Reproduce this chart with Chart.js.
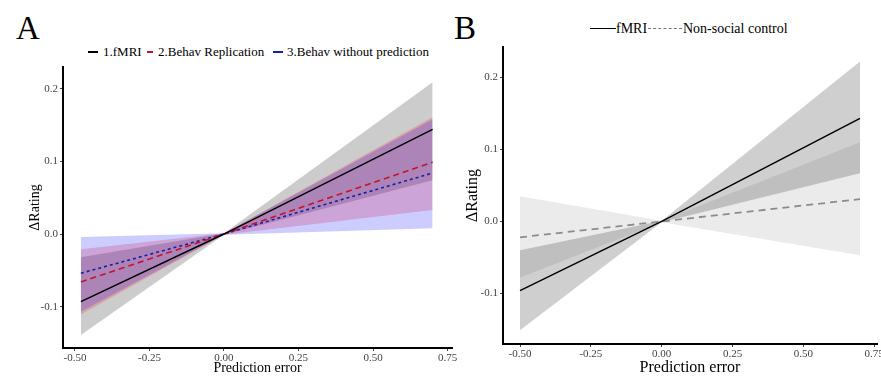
<!DOCTYPE html>
<html>
<head>
<meta charset="utf-8">
<script src="https://cdn.jsdelivr.net/npm/chart.js@4.4.1/dist/chart.umd.min.js"></script>
<style>
  html, body { margin:0; padding:0; background:#fff; }
  body { width:881px; height:392px; position:relative; overflow:hidden; font-family:"Liberation Serif","DejaVu Serif",serif; }
  .abs { position:absolute; }
  .lbl { position:absolute; white-space:nowrap; color:#000; line-height:1; }
  .panel { position:absolute; font-size:33px; line-height:1; color:#000; }
  .ln { position:absolute; height:0; }
</style>
</head>
<body>
<div class="panel" style="left:16px;top:12px;">A</div>
<div class="panel" style="left:454px;top:12px;">B</div>

<!-- Legend A -->
<div class="ln" style="left:88px;top:51px;width:10px;border-top:2px solid #000;"></div>
<div class="lbl" style="left:103px;top:45px;font-size:13px;">1.fMRI</div>
<div class="ln" style="left:147px;top:51px;width:6px;border-top:2px solid #c8102e;"></div>
<div class="lbl" style="left:158px;top:45px;font-size:13px;">2.Behav Replication</div>
<div class="ln" style="left:273px;top:51px;width:10px;border-top:2px dashed #1c1ca8;"></div>
<div class="lbl" style="left:287px;top:45px;font-size:13px;">3.Behav without prediction</div>

<!-- Legend B -->
<div class="ln" style="left:590px;top:28px;width:26px;border-top:1.5px solid #000;"></div>
<div class="lbl" style="left:616px;top:22px;font-size:14px;">fMRI</div>
<div class="ln" style="left:648px;top:28px;width:34px;border-top:1px dashed #777;"></div>
<div class="lbl" style="left:683px;top:22px;font-size:14px;">Non-social control</div>

<canvas id="cA" class="abs" style="left:0;top:0;" width="460" height="392"></canvas>
<canvas id="cB" class="abs" style="left:440px;top:0;" width="441" height="392"></canvas>

<script>
// ---------- Panel A data ----------
const xA = [-0.48, 0.0, 0.70];
const fmriA_fit   = [-0.093, 0.0, 0.144];
const fmriA_upper = [-0.032, 0.001, 0.209];
const fmriA_lower = [-0.139, -0.001, 0.074];
const replA_fit   = [-0.066, 0.0, 0.099];
const replA_upper = [-0.021, 0.001, 0.161];
const replA_lower = [-0.111, -0.001, 0.033];
const noPredA_fit   = [-0.054, 0.0, 0.084];
const noPredA_upper = [-0.004, 0.001, 0.158];
const noPredA_lower = [-0.107, -0.001, 0.008];

// ---------- Panel B data ----------
const xB = [-0.50, 0.0, 0.70];
const fmriB_fit   = [-0.096, 0.0, 0.143];
const fmriB_upper = [-0.040, 0.001, 0.222];
const fmriB_lower = [-0.151, -0.001, 0.067];
const nsB_fit   = [-0.022, 0.0, 0.031];
const nsB_upper = [0.035, 0.001, 0.110];
const nsB_lower = [-0.078, -0.001, -0.047];

// ---------- Ticks ----------
const xTicks = [-0.50, -0.25, 0.00, 0.25, 0.50, 0.75];
const yTicks = [-0.1, 0.0, 0.1, 0.2];

function pts(xs, ys) { return xs.map((x, i) => ({ x: x, y: ys[i] })); }

function lineDs(xs, ys, color, dash, width) {
  return { type:'line', data: pts(xs, ys), borderColor: color, borderDash: dash, borderWidth: width,
           pointRadius: 0, fill: false, tension: 0 };
}
function bandDs(xs, up, lo, color) {
  return [
    { type:'line', data: pts(xs, up), borderWidth: 0, borderColor:'rgba(0,0,0,0)', pointRadius: 0, fill: false, tension: 0 },
    { type:'line', data: pts(xs, lo), borderWidth: 0, borderColor:'rgba(0,0,0,0)', pointRadius: 0, fill: '-1', backgroundColor: color, tension: 0 }
  ];
}

function makeOpts(cfg) {
  return {
    responsive: false,
    animation: false,
    events: [],
    layout: { padding: { left: 0, right: cfg.padRight, top: cfg.padTop, bottom: 0 } },
    plugins: { legend: { display: false }, tooltip: { enabled: false } },
    scales: {
      x: {
        type: 'linear', min: cfg.xmin, max: cfg.xmax,
        afterBuildTicks: s => { s.ticks = xTicks.map(v => ({ value: v })); },
        afterFit: s => { s.height = cfg.xAxisH; s.paddingRight = 0; s.paddingLeft = 0; },
        ticks: { callback: v => v.toFixed(2), color:'#444', font: { family:'Liberation Serif', size: cfg.tickSize }, padding: 1, maxRotation: 0, autoSkip: false },
        grid: { display: true, drawOnChartArea: false, drawTicks: true, tickLength: 3, color: '#444' },
        border: { display: true, color: '#000', width: 2 },
        title: { display: true, text: 'Prediction error', color:'#000', font: { family:'Liberation Serif', size: cfg.titleSize }, padding: { top: 0, bottom: cfg.xTitlePad } }
      },
      y: {
        type: 'linear', min: cfg.ymin, max: cfg.ymax,
        afterBuildTicks: s => { s.ticks = yTicks.map(v => ({ value: v })); },
        afterFit: s => { s.width = 63; },
        ticks: { callback: v => v.toFixed(1), color:'#444', font: { family:'Liberation Serif', size: cfg.tickSize }, padding: 2 },
        grid: { display: true, drawOnChartArea: false, drawTicks: true, tickLength: 3, color: '#444' },
        border: { display: true, color: '#000', width: 2 },
        title: { display: true, text: 'ΔRating', color:'#000', font: { family:'Liberation Serif', size: cfg.yTitleSize }, padding: { top: cfg.yTitlePad, bottom: 0 } }
      }
    }
  };
}

// Panel A
new Chart(document.getElementById('cA'), {
  type: 'line',
  data: {
    datasets: [
      lineDs(xA, fmriA_fit, '#000000', [], 1.4),
      lineDs(xA, replA_fit, '#c8102e', [6, 4], 1.6),
      lineDs(xA, noPredA_fit, '#1c1ca8', [3, 3], 1.6),
      ...bandDs(xA, noPredA_upper, noPredA_lower, 'rgba(0,0,255,0.2)'),
      ...bandDs(xA, replA_upper, replA_lower, 'rgba(255,0,0,0.2)'),
      ...bandDs(xA, fmriA_upper, fmriA_lower, 'rgba(0,0,0,0.2)')
    ]
  },
  options: makeOpts({ xmin: -0.54, xmax: 0.765, ymin: -0.157, ymax: 0.23, padTop: 67, padRight: 8,
                      xAxisH: 44, tickSize: 11, titleSize: 14, yTitleSize: 14, xTitlePad: 15, yTitlePad: 27 })
});

// Panel B
new Chart(document.getElementById('cB'), {
  type: 'line',
  data: {
    datasets: [
      lineDs(xB, fmriB_fit, '#000000', [], 1.5),
      lineDs(xB, nsB_fit, '#8c8c8c', [7, 5], 1.8),
      ...bandDs(xB, fmriB_upper, fmriB_lower, 'rgba(0,0,0,0.19)'),
      ...bandDs(xB, nsB_upper, nsB_lower, 'rgba(0,0,0,0.08)')
    ]
  },
  options: makeOpts({ xmin: -0.56, xmax: 0.76, ymin: -0.17, ymax: 0.242, padTop: 47, padRight: 4,
                      xAxisH: 48, tickSize: 11, titleSize: 16, yTitleSize: 16, xTitlePad: 15, yTitlePad: 23 })
});
</script>
</body>
</html>
